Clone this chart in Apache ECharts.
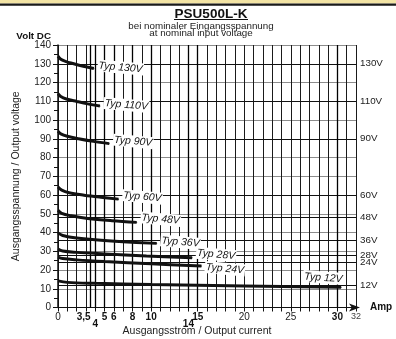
<!DOCTYPE html>
<html><head><meta charset="utf-8">
<script src="https://cdn.jsdelivr.net/npm/echarts@6/dist/echarts.min.js"></script>
<style>html,body{margin:0;padding:0;background:#fff}#c{width:396px;height:339px}</style>
</head><body><div id="c"></div>
<script>
// ---- data ----
const curveNames = ['Typ 130V','Typ 110V','Typ 90V','Typ 60V','Typ 48V','Typ 36V','Typ 28V','Typ 24V','Typ 12V'];
const curve130 = [[0,134],[0.3,132.4],[0.8,131.3],[1.6,130.1],[2.6,128.8],[3.85,127.5]];
const curve110 = [[0,114],[0.3,112.5],[0.9,111.2],[2,109.9],[3.2,108.6],[4.5,107.5]];
const curve90  = [[0,94],[0.3,92.6],[1,91.3],[2.2,90],[3.8,88.6],[5.5,87.4]];
const curve60  = [[0,64.3],[0.4,62.6],[1.2,61.2],[2.8,59.9],[4.6,58.8],[6.5,57.8]];
const curve48  = [[0,51.9],[0.4,50.2],[1.4,48.9],[3.2,47.5],[5.8,46.3],[8.45,45.4]];
const curve36  = [[0,39.8],[0.5,38.4],[1.8,37.2],[4,36.1],[7,35.1],[10.6,34.2]];
const curve28  = [[0,31.2],[0.5,30.1],[2,29.4],[5,28.6],[9.5,27.5],[14.4,26.5]];
const curve24  = [[0,26.9],[0.5,26.1],[2,25.4],[5,24.5],[10,23.3],[15.4,22.1]];
const curve12  = [[0,14.2],[1,13.4],[4,12.9],[10,12.3],[20,11.5],[30.4,10.8]];
const curves = [curve130,curve110,curve90,curve60,curve48,curve36,curve28,curve24,curve12];
const nominalVoltages = [130,110,90,60,48,36,28,24,12];
const xLabelValues = [0,3.5,5,6,8,10,15,20,25,30,32];
const xLabelValuesLow = [4,14];
const boldXLabels = [3.5,4,5,6,8,10,14,15,30];
const majorCurrentLines = [3.5,4,5,6,8,10,14,15,30];

// ---- label placement (styling, not data) ----
const labelDy = [-3,-3,-4,-4,-5,-3,-5,1,0];

// ---- chart ----
const FONT = 'Liberation Sans, Arial, sans-serif';
const chart = echarts.init(document.getElementById('c'), null, {renderer:'canvas'});

function xLabelFmt(v){
  const s = String(v).replace('.', ',');
  if (v === 3.5) return '{l|' + s + '}';
  if (v === 32) return '{s|' + s + '}';
  return boldXLabels.indexOf(v) >= 0 ? '{b|' + s + '}' : '{n|' + s + '}';
}
const xRich = {
  b:{fontWeight:'bold', fontSize:10, fontFamily:FONT, color:'#111'},
  l:{fontWeight:'bold', fontSize:10, fontFamily:FONT, color:'#111', padding:[0,14,0,0]},
  n:{fontSize:10, fontFamily:FONT, color:'#222'},
  s:{fontSize:9, fontFamily:FONT, color:'#444'}
};

const curveSeries = curves.map((pts, i) => {
  const isLast = i === curves.length - 1;
  const labelCfg = isLast ? {
      show:true, position:'top', align:'right', distance:2, offset:[2,0], rotate:-4
    } : {
      show:true, position:'right', distance:3, offset:[0,labelDy[i]], rotate:-5
    };
  Object.assign(labelCfg, {
    formatter: curveNames[i], fontFamily:FONT, fontStyle:'italic', fontSize:10.5,
    color:'#111', backgroundColor:'#fff', padding:[1,1,0,1]
  });
  const data = pts.map((p, k) => k === pts.length - 1
    ? {value:p, symbol:'circle', symbolSize:1, label:labelCfg}
    : {value:p, symbol:'none'});
  return {
    type:'line', name:curveNames[i], data, smooth:0.35, symbol:'none', showSymbol:true,
    lineStyle:{color:'#111', width:3}, itemStyle:{color:'#111'}, z:5, silent:true
  };
});

const option = {
  animation:false,
  backgroundColor:'#fff',
  grid:{left:58, right:40, top:45, bottom:31.5, containLabel:false},
  xAxis:[{
    type:'value', min:0, max:32, interval:1,
    name:'Amp', nameLocation:'end', nameGap:14,
    nameTextStyle:{fontWeight:'bold', fontSize:10, fontFamily:FONT, color:'#111', verticalAlign:'middle'},
    axisLine:{show:true, lineStyle:{color:'#111', width:1.2}, symbol:['none','arrow'], symbolSize:[6,11], symbolOffset:[0,4]},
    axisTick:{show:true, length:4, lineStyle:{color:'#111'}},
    axisLabel:{customValues:xLabelValues, margin:5, formatter:xLabelFmt, rich:xRich},
    splitLine:{show:true, lineStyle:{color:'#1a1a1a', width:1}}
  },{
    type:'value', min:0, max:32, position:'bottom', offset:0,
    axisLine:{show:false}, axisTick:{show:false}, splitLine:{show:false},
    axisLabel:{customValues:xLabelValuesLow, margin:12, formatter:xLabelFmt, rich:xRich}
  }],
  yAxis:[{
    type:'value', min:0, max:140, interval:10,
    name:'Ausgangsspannung / Output voltage', nameLocation:'middle', nameGap:36,
    nameTextStyle:{fontSize:10.5, fontFamily:FONT, color:'#222'},
    axisLine:{show:true, lineStyle:{color:'#111', width:1.5}},
    axisTick:{show:true, length:5, lineStyle:{color:'#111'}},
    minorTick:{show:true, splitNumber:2, length:4, lineStyle:{color:'#111'}},
    axisLabel:{fontSize:10, fontFamily:FONT, color:'#222', margin:7},
    splitLine:{show:true, lineStyle:{color:'#8c8c8c', width:1}}
  }],
  graphic:[
    {type:'rect', shape:{x:0, y:0, width:396, height:3.4}, style:{fill:'#f3e4a4'}, silent:true},
    {type:'rect', shape:{x:0, y:3.4, width:396, height:2.4}, style:{fill:'#1a1a1a'}, silent:true},
    {type:'text', x:211, y:14, style:{text:'PSU500L-K', fill:'#111', font:'bold 13.5px ' + FONT, align:'center', verticalAlign:'middle'}},
    {type:'line', shape:{x1:174, y1:19.5, x2:248, y2:19.5}, style:{stroke:'#111', lineWidth:1.2}},
    {type:'text', x:201, y:26.5, style:{text:'bei nominaler Eingangsspannung', fill:'#222', font:'9.8px ' + FONT, align:'center', verticalAlign:'middle'}},
    {type:'text', x:201, y:33.5, style:{text:'at nominal input voltage', fill:'#222', font:'9.8px ' + FONT, align:'center', verticalAlign:'middle'}},
    {type:'text', x:51, y:36, style:{text:'Volt DC', fill:'#111', font:'bold 9.8px ' + FONT, align:'right', verticalAlign:'middle'}},
    {type:'text', x:197, y:331, style:{text:'Ausgangsstrom / Output current', fill:'#222', font:'10.5px ' + FONT, align:'center', verticalAlign:'middle'}}
  ],
  series:[
    {
      type:'line', data:[], z:2, silent:true,
      markLine:{
        silent:true, symbol:['none','none'], animation:false,
        lineStyle:{color:'#111', width:1.2, type:'solid'},
        label:{show:true, position:'end', distance:4, fontSize:9.8, fontFamily:FONT, color:'#222'},
        data: nominalVoltages.map(v => ({yAxis:v, label:{formatter: v + 'V'}}))
      }
    },
    {
      type:'line', data:[], z:2, silent:true,
      markLine:{
        silent:true, symbol:['none','none'], animation:false,
        lineStyle:{color:'#000', width:1.3, type:'solid'},
        label:{show:false},
        data: majorCurrentLines.map(x => ({xAxis:x}))
      }
    }
  ].concat(curveSeries)
};
chart.setOption(option);
</script>
</body></html>
